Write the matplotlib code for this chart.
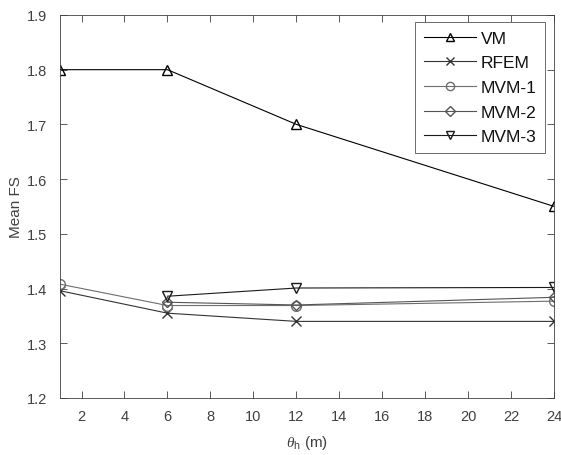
import matplotlib
matplotlib.use("Agg")
import matplotlib.pyplot as plt

plt.rcParams['font.family'] = ['Liberation Sans', 'DejaVu Sans']
plt.rcParams['mathtext.fontset'] = 'custom'
plt.rcParams['mathtext.it'] = 'Liberation Serif:italic'
plt.rcParams['mathtext.rm'] = 'Liberation Sans'

# correlation length values (m)
theta_h = [1, 6, 12, 24]
theta_h_mvm = [6, 12, 24]

vm = [1.80, 1.80, 1.70, 1.55]
rfem = [1.396, 1.355, 1.340, 1.340]
mvm1 = [1.408, 1.369, 1.369, 1.377]
mvm2 = [1.375, 1.370, 1.384]
mvm3 = [1.386, 1.401, 1.402]

x_ticks = list(range(2, 25, 2))
y_ticks = [1.2, 1.3, 1.4, 1.5, 1.6, 1.7, 1.8, 1.9]

txt = '#404040'

fig = plt.figure(figsize=(5.61, 4.56), dpi=100)
ax = fig.add_axes([0.107, 0.125, 0.881, 0.84])

ms = 7
ax.plot(theta_h, vm, marker='^', color='black', mfc='none', ms=ms, lw=0.8, label='VM')
ax.plot(theta_h, rfem, marker='x', color='#333333', mfc='none', ms=ms, lw=0.8, label='RFEM')
ax.plot(theta_h, mvm1, marker='o', color='#6e6e6e', mfc='none', ms=ms, lw=0.8, label='MVM-1')
ax.plot(theta_h_mvm, mvm2, marker='D', color='#555555', mfc='none', ms=5.5, lw=0.8, label='MVM-2')
ax.plot(theta_h_mvm, mvm3, marker='v', color='#1a1a1a', mfc='none', ms=ms, lw=0.8, label='MVM-3')

ax.set_xlim(1, 24)
ax.set_ylim(1.2, 1.9)
ax.set_xticks(x_ticks)
ax.set_yticks(y_ticks)
ax.set_yticklabels(['%.1f' % v for v in y_ticks])
ax.tick_params(direction='in', top=True, right=True, length=5, width=0.6,
               labelsize=10.5, colors=txt)
ax.tick_params(axis='x', pad=8)
ax.tick_params(axis='y', pad=9)
for s in ax.spines.values():
    s.set_linewidth(0.6)
    s.set_color(txt)

ax.set_xlabel(r'$\theta_{\mathrm{h}}$ (m)', fontsize=11, color=txt, labelpad=7)
ax.set_ylabel('Mean FS', fontsize=11, color=txt, labelpad=3)

leg = ax.legend(loc='upper right', bbox_to_anchor=(0.982, 0.982), borderaxespad=0,
                fontsize=12.5, handlelength=3.0, fancybox=False, framealpha=1,
                edgecolor='#555555', borderpad=0.5, labelspacing=0.55,
                handletextpad=0.3, markerscale=0.85)
leg.get_frame().set_linewidth(0.6)
for t in leg.get_texts():
    t.set_color('#111111')

fig.savefig('out.png', dpi=100)
